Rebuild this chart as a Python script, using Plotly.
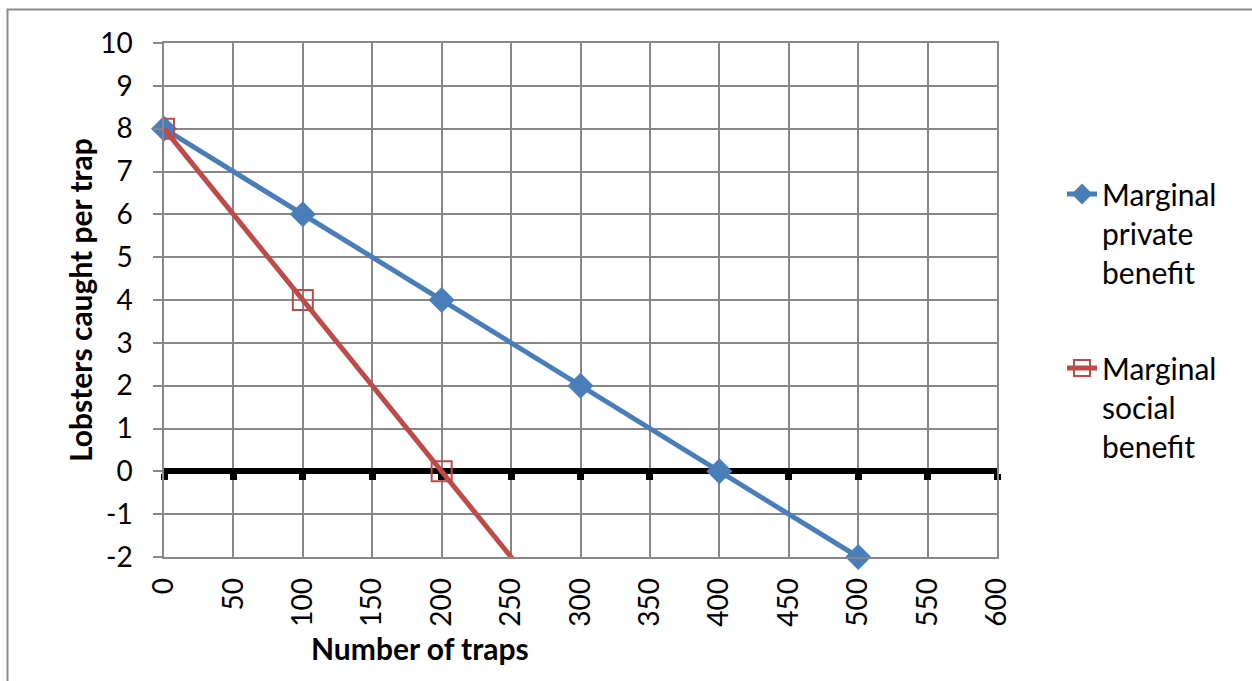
import plotly.graph_objects as go

# Lobster trap example: marginal private vs. marginal social benefit
traps_private = [0, 100, 200, 300, 400, 500]
private_benefit = [8, 6, 4, 2, 0, -2]

traps_social = [0, 100, 200, 300]
social_benefit = [8, 4, 0, -4]

x_ticks = list(range(0, 601, 50))
y_ticks = list(range(-2, 11, 1))

BLUE = "#4A7EBB"
RED = "#BE4B48"
GRID = "#878787"
FONT = "Lato"
FS = 30
TICK_FS = 28

fig = go.Figure()

# empty trace so the labelled bottom axis (and its grid) gets drawn
fig.add_trace(go.Scatter(x=[], y=[], xaxis="x", yaxis="y",
                         showlegend=False, hoverinfo="skip"))

fig.add_trace(go.Scatter(
    x=traps_private, y=private_benefit,
    name="Marginal<br>private<br>benefit",
    mode="lines+markers",
    line=dict(color=BLUE, width=5),
    marker=dict(symbol="diamond", size=20, color=BLUE),
    xaxis="x2", yaxis="y",
    legendgroup="a",
    cliponaxis=False,
))

fig.add_trace(go.Scatter(
    x=traps_social, y=social_benefit,
    name="Marginal<br>social<br>benefit",
    mode="lines+markers",
    line=dict(color=RED, width=5),
    marker=dict(symbol="square-open", size=20, color=RED, line=dict(width=2)),
    xaxis="x2", yaxis="y",
    legendgroup="b",
))

W, H = 1252, 681
L, R, T, B = 164, 255, 43, 124
pw, ph = W - L - R, H - T - B

def px_x(p):
    return (p - L) / pw

def px_y(p):
    return (H - B - p) / ph

fig.update_layout(
    width=W, height=H,
    margin=dict(l=L, r=R, t=T, b=B, pad=0),
    paper_bgcolor="white",
    plot_bgcolor="white",
    font=dict(family=FONT, size=FS, color="black"),
    showlegend=True,
    legend=dict(
        x=px_x(1062), y=px_y(168), xanchor="left", yanchor="top",
        valign="top", tracegroupgap=54,
        font=dict(family=FONT, size=FS, color="black"),
        bgcolor="rgba(0,0,0,0)",
    ),
    xaxis=dict(
        range=[0, 600], tickvals=x_ticks, ticktext=[str(v) for v in x_ticks],
        tickangle=-90, ticks="", showgrid=True, gridcolor=GRID, gridwidth=1.5,
        showline=True, mirror=True, linecolor=GRID, linewidth=1.5,
        zeroline=False, ticklabelstandoff=8,
        tickfont=dict(family=FONT, size=TICK_FS),
    ),
    xaxis2=dict(
        overlaying="x", matches="x", anchor="free", position=1/6,
        range=[0, 600], dtick=50, tick0=0,
        showline=True, linecolor="black", linewidth=6,
        ticks="outside", tickcolor="black", tickwidth=7, ticklen=6,
        showticklabels=False, showgrid=False, zeroline=False,
        layer="below traces",
    ),
    yaxis=dict(
        range=[-2, 10], tickvals=y_ticks, ticktext=[str(v) for v in y_ticks],
        ticks="outside", ticklen=9, tickcolor=GRID, tickwidth=1.5,
        showgrid=True, gridcolor=GRID, gridwidth=1.5,
        showline=True, mirror=True, linecolor=GRID, linewidth=1.5,
        zeroline=False, ticklabelstandoff=15,
        tickfont=dict(family=FONT, size=TICK_FS),
    ),
    annotations=[
        dict(text="<b>Number of traps</b>", xref="paper", yref="paper",
             x=px_x(420), y=px_y(648), xanchor="center", yanchor="middle",
             showarrow=False, font=dict(family=FONT, size=FS)),
        dict(text="<b>Lobsters caught per trap</b>", xref="paper", yref="paper",
             x=px_x(80), y=px_y(300), xanchor="center", yanchor="middle",
             textangle=-90, showarrow=False, font=dict(family=FONT, size=FS)),
    ],
    shapes=[
        dict(type="rect", xref="paper", yref="paper",
             x0=px_x(7.5), x1=px_x(W + 20), y0=px_y(H + 20), y1=px_y(9.5),
             line=dict(color="#8C8C8C", width=2), fillcolor="rgba(0,0,0,0)",
             layer="below"),
    ],
)

fig.write_html("out.html")
